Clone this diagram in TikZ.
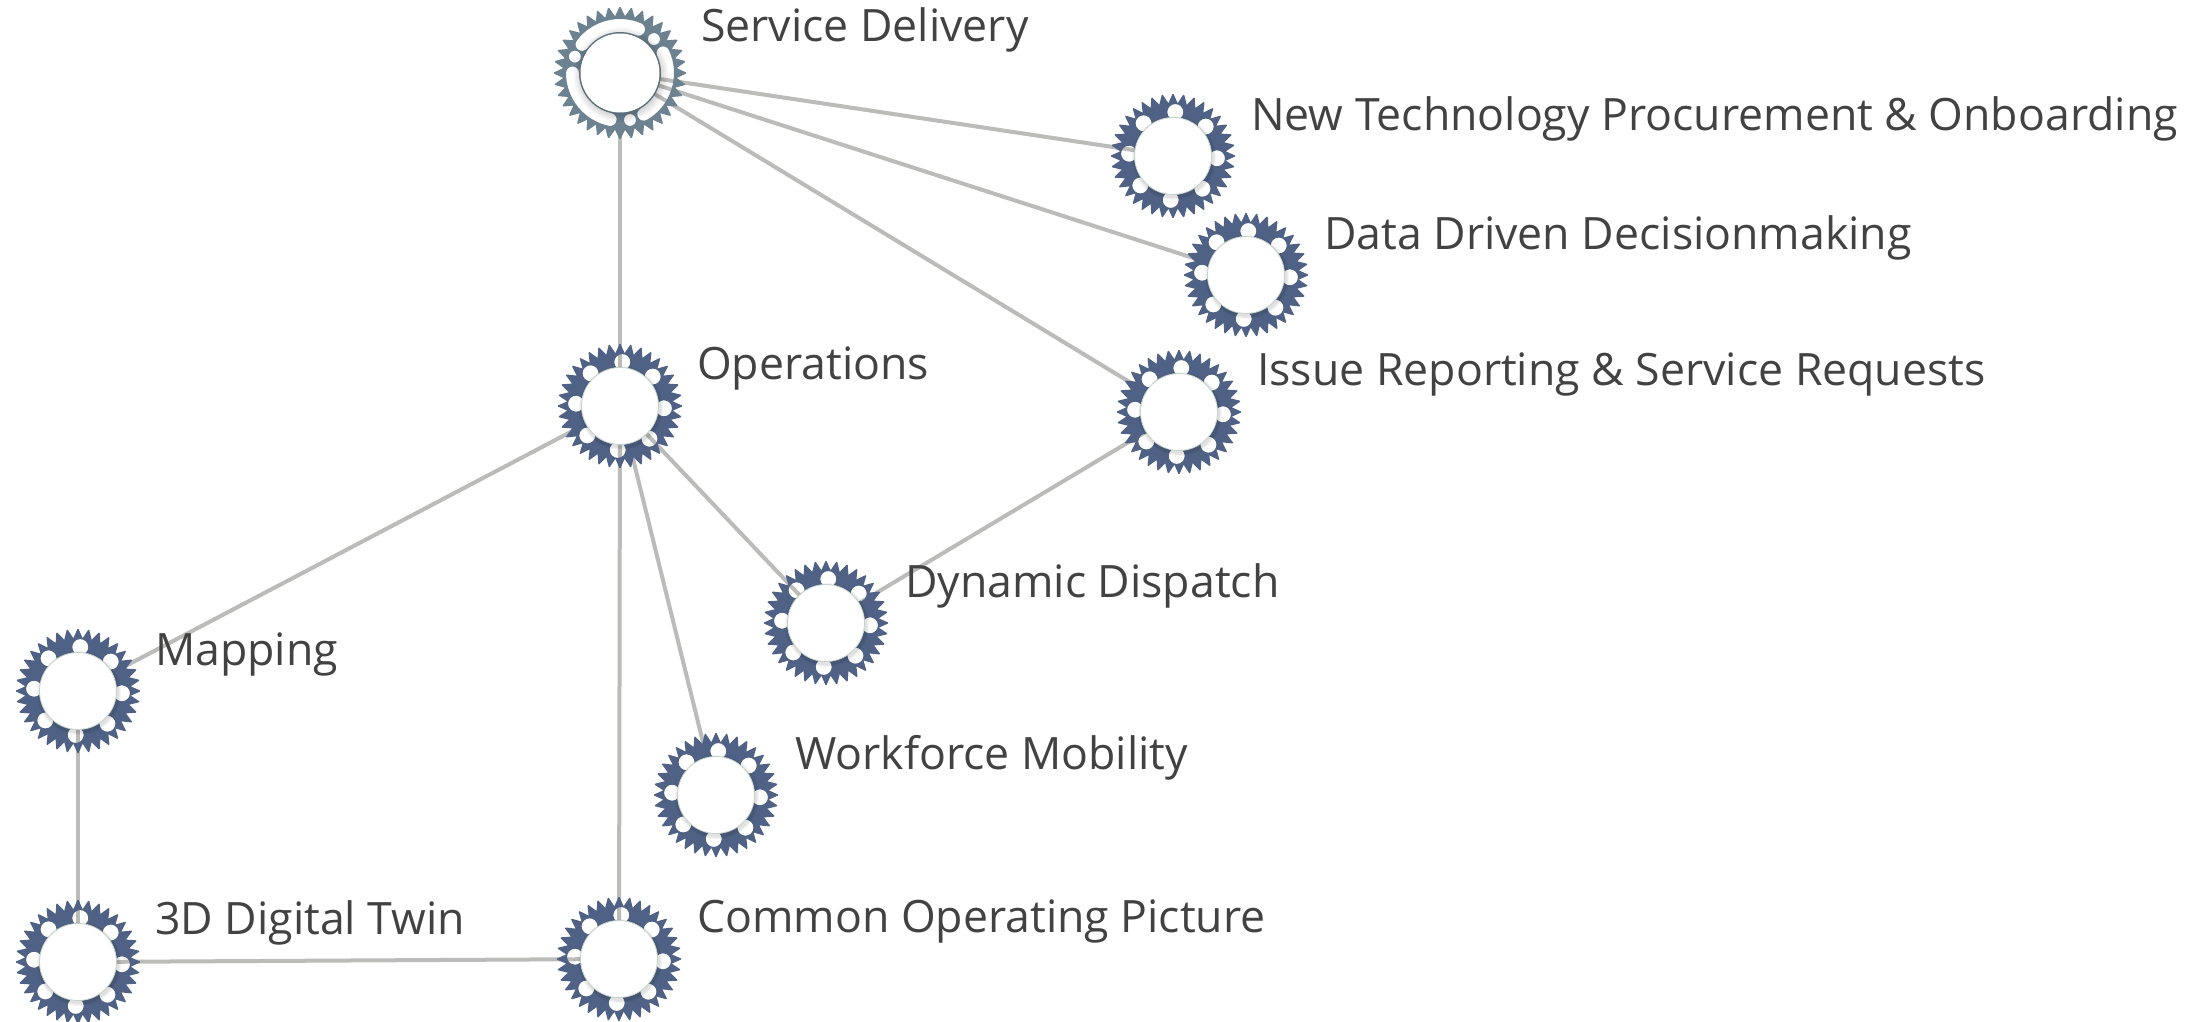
\documentclass[tikz,border=0pt]{standalone}
\usepackage{fontspec}
\setmainfont{Open Sans}
\definecolor{gearblue}{HTML}{4F6285}
\definecolor{gearslate}{HTML}{6C8291}
\definecolor{linkgray}{HTML}{BBBBB9}
\definecolor{labelink}{HTML}{424242}
\definecolor{hubedge}{HTML}{C4D2C8}
\tikzset{
  x=1pt,y=-1pt,
  hub/.style={circle,inner sep=0pt,minimum size=80pt},
  link/.style={draw=linkgray,line width=4pt},
  tag/.style={anchor=base west,inner sep=0pt,text=labelink,font=\fontsize{44.6}{44.6}\selectfont},
  hubface/.style={fill=white,draw=hubedge,line width=0.8pt},
  softshade/.style={fill=black,opacity=.04},
}
\newcommand{\gearoutline}[2]{%
  \xdef\gearpath{}%
  \foreach \t in {0,...,35}{%
    \pgfmathsetmacro{\aa}{\t*10-0.5}\pgfmathsetmacro{\ac}{\t*10+0.5}\pgfmathsetmacro{\ad}{\t*10+5}%
    \xdef\gearpath{\gearpath ([shift={(#1.center)}]\aa:#2) -- ([shift={(#1.center)}]\ac:#2) -- ([shift={(#1.center)}]\ad:#2-9) -- }%
  }%
}
\newcommand{\hubgear}[1]{%
  \gearoutline{#1}{62}%
  \fill[gearblue,even odd rule] \gearpath cycle
    \foreach \h in {3,48,93,138,183,228,273,318}{ ([shift={(#1.center)}]\h:44) circle[radius=8] };
  \foreach \r in {42,41,40}{\path[softshade] ([shift={(1,2)}]#1.center) circle[radius=\r];}
  \path[hubface] (#1.center) circle[radius=38.5];
}
\newcommand{\slotpath}[2]{ ([shift={(svc.center)}]#1:54) arc[start angle=#1,end angle=#2,radius=54] arc[start angle=#2,delta angle=180,radius=6.5] arc[start angle=#2,end angle=#1,radius=41] arc[start angle=#1+180,delta angle=180,radius=6.5] -- cycle }
\begin{document}
\begin{tikzpicture}
\useasboundingbox[fill=white] (0,0) rectangle (2211,1022);
\node[hub] (svc) at (620,73) {};
\node[hub] (tech) at (1173,156) {};
\node[hub] (data) at (1246,275) {};
\node[hub] (issue) at (1179,412) {};
\node[hub] (ops) at (620,406) {};
\node[hub] (disp) at (826,623) {};
\node[hub] (map) at (78,691) {};
\node[hub] (work) at (716,795) {};
\node[hub] (twin) at (78,962) {};
\node[hub] (cop) at (619,959) {};
\foreach \a/\b in {svc/tech,svc/data,svc/issue,svc/ops,ops/map,ops/disp,ops/work,ops/cop,issue/disp,map/twin,twin/cop}
  \draw[link] (\a.center) -- (\b.center);
\foreach \n in {tech,data,issue,ops,disp,map,work,twin,cop} {\hubgear{\n}}
\gearoutline{svc}{66}
\fill[gearslate,even odd rule] \gearpath cycle
  \slotpath{-143}{-67} \slotpath{-258}{-180} \slotpath{-25}{60}
  ([shift={(svc.center)}]-45:48) circle[radius=6]
  ([shift={(svc.center)}]-160:48) circle[radius=6]
  ([shift={(svc.center)}]78:48) circle[radius=6];
\foreach \r in {47,45,43,41}{\path[softshade] ([shift={(1,2)}]svc.center) circle[radius=\r];}
\path[fill=white] (svc.center) circle[radius=39.5];
\node[tag] (l1) at (701,42) {Service Delivery};
\node[tag] (l2) at (1251,131) {New Technology Procurement \& Onboarding};
\node[tag] (l3) at (1324,249) {Data Driven Decisionmaking};
\node[tag] (l4) at (1257,385) {Issue Reporting \& Service Requests};
\node[tag] (l5) at (697,379) {Operations};
\node[tag] (l6) at (905,597) {Dynamic Dispatch};
\node[tag] (l7) at (155,665) {Mapping};
\node[tag] (l8) at (795,769) {Workforce Mobility};
\node[tag] (l9) at (155,934) {3D Digital Twin};
\node[tag] (l10) at (697,932) {Common Operating Picture};
\end{tikzpicture}
\end{document}
